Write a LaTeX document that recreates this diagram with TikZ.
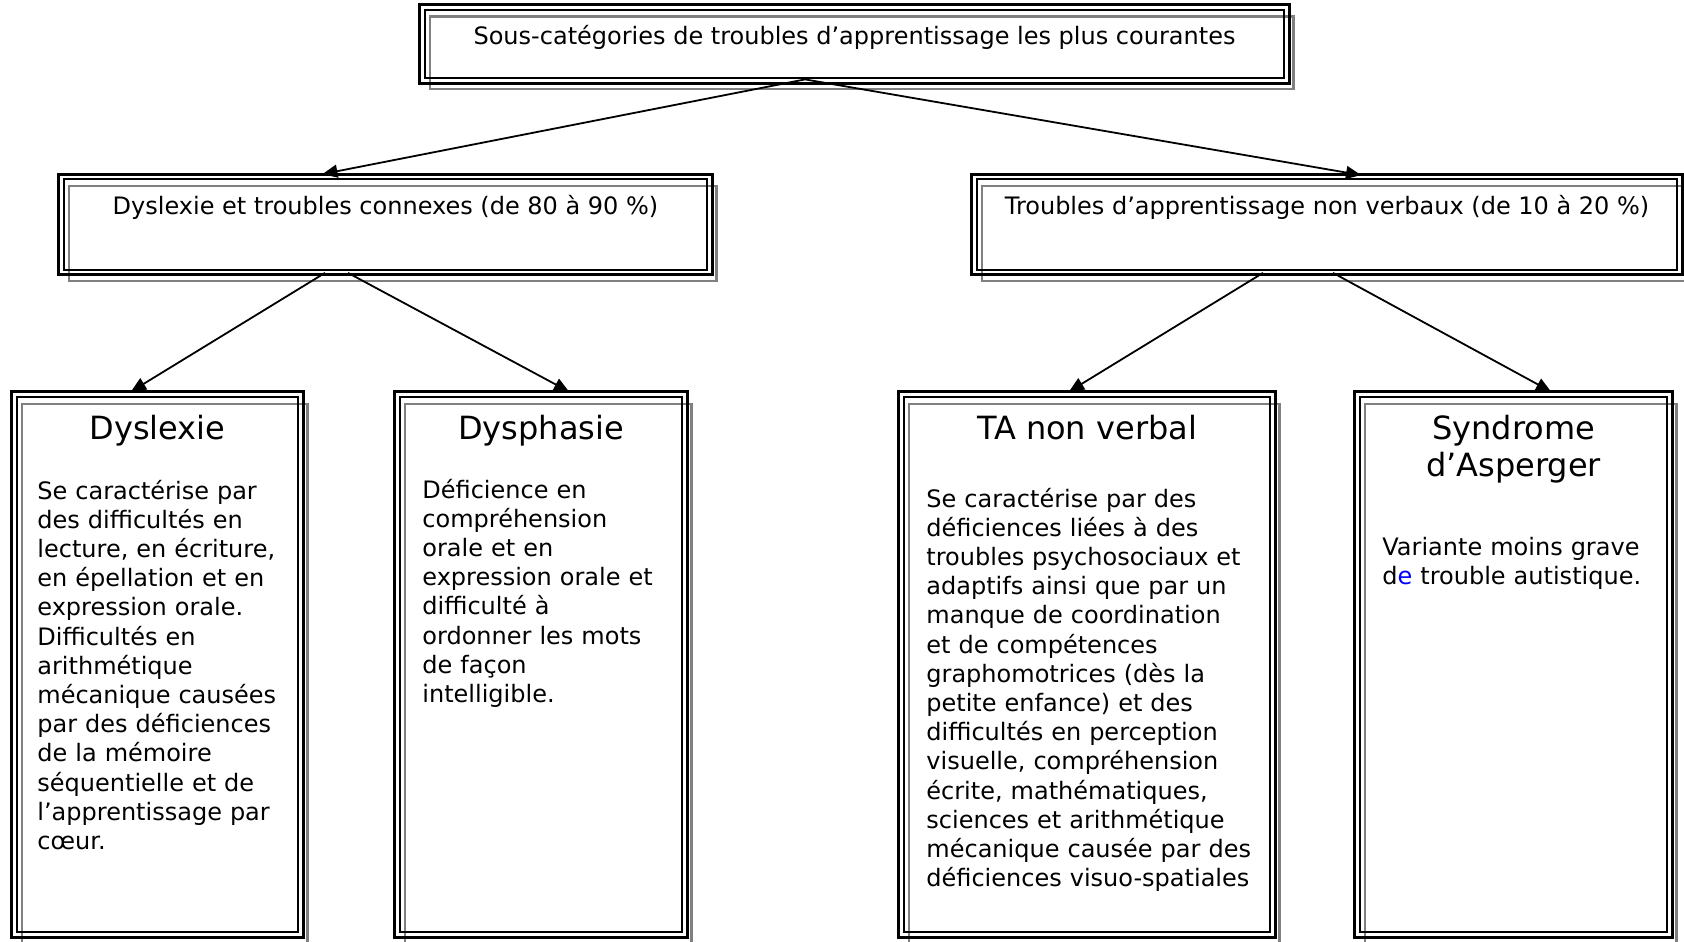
\documentclass[tikz,border=0pt]{standalone}
\usepackage{fontspec}
\setmainfont{DejaVu Sans}
\usepackage{tikz}
\usetikzlibrary{arrows.meta}
\tikzset{cadre/.style = {rectangle, inner sep = 0},
  ext/.style = {line width = 1.5pt},
  int/.style = {line width = 1pt},
  ombre/.style = {mgris, line width = 1.1pt},
  fleche/.style = {-{Triangle[length = 7.5pt, width = 6.5pt]}, line width = 0.9pt},
  texte/.style = {anchor = base, inner sep = 0, font = \fontsize{12}{14.6}\selectfont},
  titre/.style = {anchor = base, inner sep = 0, align = center, font = \fontsize{16}{18.5}\selectfont},
  corps/.style = {anchor = base west, inner sep = 0, text width = 170pt, align = left,
    font = \fontsize{12}{14.6}\selectfont}}
\definecolor{mgris}{rgb}{0.5, 0.5, 0.5}

\begin{document}
\begin{tikzpicture}[x = 1pt, y = -1pt]
      \useasboundingbox (0, 0) rectangle (842, 470.5);
      \node [cadre, minimum width = 434.5pt, minimum height = 39pt] (top) at (427.25, 22) {};
      \node [cadre, minimum width = 326.5pt, minimum height = 50pt] (dysc) at (192.75, 112.25) {};
      \node [cadre, minimum width = 355pt, minimum height = 50pt] (tanv) at (663.5, 112.25) {};
      \node [cadre, minimum width = 145.5pt, minimum height = 272.5pt] (dysx) at (78.75, 332.25) {};
      \node [cadre, minimum width = 146pt, minimum height = 272.5pt] (dysp) at (270.5, 332.25) {};
      \node [cadre, minimum width = 188pt, minimum height = 272.5pt] (tanb) at (543.5, 332.25) {};
      \node [cadre, minimum width = 158.5pt, minimum height = 272.5pt] (aspg) at (756.75, 332.25) {};
      \foreach \n in {top, dysc, tanv, dysx, dysp, tanb, aspg} {
        \draw [ombre] ([shift = {(5, 6)}]\n.north west) rectangle ([shift = {(2, 3)}]\n.south east);
        \draw [ext] (\n.north west) rectangle (\n.south east);
        \draw [int] ([shift = {(2.5, 2.5)}]\n.north west) rectangle ([shift = {(-2.5, -2.5)}]\n.south east);
      }
      \node [texte] (topt) at (427.25, 22.5) {Sous-catégories de troubles d’apprentissage les plus courantes};
      \node [texte] (dysct) at (192.75, 107) {Dyslexie et troubles connexes (de 80 à 90 \%)};
      \node [texte] (tanvt) at (663.5, 107) {Troubles d’apprentissage non verbaux (de 10 à 20 \%)};
      \node [titre] (dysxh) at (78.75, 219.5) {Dyslexie};
      \node [titre] (dysph) at (270.5, 219.5) {Dysphasie};
      \node [titre] (tanbh) at (543.5, 219.5) {TA non verbal};
      \node [titre] (aspgh) at (756.75, 238) {Syndrome\\d’Asperger};
      \node [corps] (dysxt) at (18.5, 249.5) {Se caractérise par\\des difficultés en\\lecture, en écriture,\\en épellation et en\\expression orale.\\Difficultés en\\arithmétique\\mécanique causées\\par des déficiences\\de la mémoire\\séquentielle et de\\l’apprentissage par\\cœur.};
      \node [corps] (dyspt) at (211, 249) {Déficience en\\compréhension\\orale et en\\expression orale et\\difficulté à\\ordonner les mots\\de façon\\intelligible.};
      \node [corps] (tanbt) at (463, 253.5) {Se caractérise par des\\déficiences liées à des\\troubles psychosociaux et\\adaptifs ainsi que par un\\manque de coordination\\et de compétences\\graphomotrices (dès la\\petite enfance) et des\\difficultés en perception\\visuelle, compréhension\\écrite, mathématiques,\\sciences et arithmétique\\mécanique causée par des\\déficiences visuo-spatiales};
      \node [corps] (aspgt) at (691, 277.5) {Variante moins grave\\d\textcolor{blue}{e} trouble autistique.};
      \draw [fleche] ([shift = {(-24.75, -2)}]top.south) -- ([shift = {(-31.5, 0)}]dysc.north);
      \draw [fleche] ([shift = {(-24.75, -2)}]top.south) -- ([shift = {(17, 0.5)}]tanv.north);
      \draw [fleche] ([shift = {(-30.25, -1)}]dysc.south) -- ([shift = {(-13.25, 0)}]dysx.north);
      \draw [fleche] ([shift = {(-18.75, -1)}]dysc.south) -- ([shift = {(14, 0)}]dysp.north);
      \draw [fleche] ([shift = {(-32, -1)}]tanv.south) -- ([shift = {(-9, 0)}]tanb.north);
      \draw [fleche] ([shift = {(3, -1)}]tanv.south) -- ([shift = {(18.75, 0)}]aspg.north);
\end{tikzpicture}
\end{document}
